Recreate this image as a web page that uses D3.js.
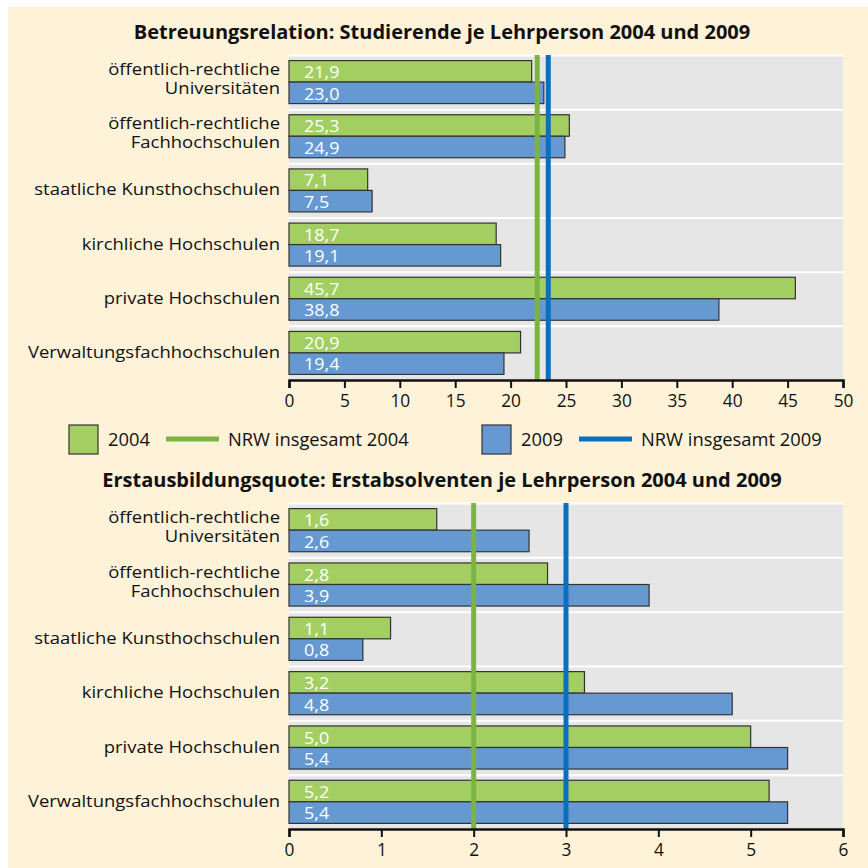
<!DOCTYPE html>
<html>
<head>
<meta charset="utf-8">
<script src="https://cdn.jsdelivr.net/npm/d3@7"></script>
<style>
  body { margin: 0; background: #fff; }
  text { font-family: "Open Sans", "Noto Sans", sans-serif; fill: #111; }
</style>
</head>
<body>
<div id="chart"></div>
<script>
// categories (line breaks mark two-line labels)
var categories = [
  "öffentlich-rechtliche\nUniversitäten",
  "öffentlich-rechtliche\nFachhochschulen",
  "staatliche Kunsthochschulen",
  "kirchliche Hochschulen",
  "private Hochschulen",
  "Verwaltungsfachhochschulen"
];
var years = ["2004", "2009"];

// Betreuungsrelation
var betreuung2004 = [21.9, 25.3, 7.1, 18.7, 45.7, 20.9];
var betreuung2009 = [23.0, 24.9, 7.5, 19.1, 38.8, 19.4];
var betreuungNRW = [22.4, 23.4];
var betreuungTicks = [0, 5, 10, 15, 20, 25, 30, 35, 40, 45, 50];

// Erstausbildungsquote
var erst2004 = [1.6, 2.8, 1.1, 3.2, 5.0, 5.2];
var erst2009 = [2.6, 3.9, 0.8, 4.8, 5.4, 5.4];
var erstNRW = [2.0, 3.0];
var erstTicks = [0, 1, 2, 3, 4, 5, 6];

var legendLabels = ["2004", "NRW insgesamt 2004", "2009", "NRW insgesamt 2009"];

var barColor = {"2004": "#a3cf62", "2009": "#6699d1"};
var lineColor = {"2004": "#7bb441", "2009": "#0a70bd"};

var width = 868, height = 868;
var fmt = function(v) { return d3.format(".1f")(v).replace(".", ","); };

// text is a bit wider in the original, stretch it horizontally
function place(x, y, sx) {
  return "translate(" + x + "," + y + ") scale(" + sx + ",1)";
}

var svg = d3.select("#chart").append("svg")
    .attr("width", width)
    .attr("height", height);

// cream background
svg.append("rect")
    .attr("x", 8).attr("y", 7)
    .attr("width", width - 8).attr("height", height - 7)
    .attr("fill", "#fef2d8");

function drawPanel(opt) {
  var x = d3.scaleLinear().domain([0, opt.max]).range([289, 843]);
  var y = d3.scaleBand().domain(categories).range([opt.top, opt.bottom]);
  var y2 = d3.scaleBand().domain(years).range([0, y.bandwidth()]).paddingOuter(0.26);

  var g = svg.append("g");

  g.append("text")
      .attr("x", 442).attr("y", opt.titleY)
      .attr("text-anchor", "middle")
      .style("font-weight", "bold")
      .style("font-size", "20px")
      .text(opt.title);

  // plot background
  g.append("rect")
      .attr("x", x(0)).attr("y", opt.top)
      .attr("width", x(opt.max) - x(0)).attr("height", opt.bottom - opt.top)
      .attr("fill", "#e6e6e6");

  // white separators
  g.selectAll(".sep")
    .data(categories)
    .enter().append("line")
      .attr("x1", x(0)).attr("x2", x(opt.max))
      .attr("y1", function(d) { return y(d) + 0.5; })
      .attr("y2", function(d) { return y(d) + 0.5; })
      .attr("stroke", "#fff")
      .attr("stroke-width", 2);

  // bars
  var rows = [];
  categories.forEach(function(c, i) {
    rows.push({cat: c, year: "2004", value: opt.v2004[i]});
    rows.push({cat: c, year: "2009", value: opt.v2009[i]});
  });

  g.selectAll(".bar")
    .data(rows)
    .enter().append("rect")
      .attr("x", x(0))
      .attr("y", function(d) { return y(d.cat) + y2(d.year); })
      .attr("width", function(d) { return x(d.value) - x(0); })
      .attr("height", y2.bandwidth())
      .attr("fill", function(d) { return barColor[d.year]; })
      .attr("stroke", "#333")
      .attr("stroke-width", 1.2);

  g.selectAll(".val")
    .data(rows)
    .enter().append("text")
      .attr("transform", function(d) {
        return place(x(0) + 15, y(d.cat) + y2(d.year) + y2.bandwidth() - 4, 1.1);
      })
      .style("fill", "#fff")
      .style("font-size", "16.3px")
      .text(function(d) { return fmt(d.value); });

  // NRW lines
  g.selectAll(".nrw")
    .data(years)
    .enter().append("line")
      .attr("x1", function(d, i) { return x(opt.nrw[i]); })
      .attr("x2", function(d, i) { return x(opt.nrw[i]); })
      .attr("y1", opt.top)
      .attr("y2", opt.bottom)
      .attr("stroke", function(d) { return lineColor[d]; })
      .attr("stroke-width", 5);

  // category labels
  g.selectAll(".cat")
    .data(categories)
    .enter().append("text")
      .attr("text-anchor", "end")
      .style("font-size", "16.5px")
      .attr("transform", function(d) {
        return place(280, y(d) + y.bandwidth() / 2, 1.12);
      })
      .each(function(d) {
        var lines = d.split("\n");
        var t = d3.select(this);
        lines.forEach(function(l, k) {
          t.append("tspan")
              .attr("x", 0)
              .attr("y", lines.length === 1 ? 5 : -7 + k * 19)
              .text(l);
        });
      });

  // axis
  var axis = g.append("g")
      .attr("transform", "translate(0," + opt.bottom + ")")
      .call(d3.axisBottom(x).tickValues(opt.ticks).tickSize(8).tickPadding(7).tickFormat(d3.format("d")));
  axis.select(".domain").attr("stroke", "#111").attr("stroke-width", 2.5);
  axis.selectAll(".tick line").attr("stroke", "#111").attr("stroke-width", 2);
  axis.selectAll(".tick text")
      .style("font-family", "'Open Sans', sans-serif")
      .style("font-size", "17.3px")
      .attr("fill", "#111");
}

drawPanel({
  title: "Betreuungsrelation: Studierende je Lehrperson 2004 und 2009",
  titleY: 39, top: 55, bottom: 380, max: 50,
  v2004: betreuung2004, v2009: betreuung2009, nrw: betreuungNRW, ticks: betreuungTicks
});

drawPanel({
  title: "Erstausbildungsquote: Erstabsolventen je Lehrperson 2004 und 2009",
  titleY: 487, top: 503, bottom: 829, max: 6,
  v2004: erst2004, v2009: erst2009, nrw: erstNRW, ticks: erstTicks
});

// legend
var legend = svg.append("g");
var legendX = [69, 482];
years.forEach(function(yr, i) {
  var lx = legendX[i];
  legend.append("rect")
      .attr("x", lx).attr("y", 425)
      .attr("width", 29).attr("height", 29)
      .attr("fill", barColor[yr])
      .attr("stroke", "#333").attr("stroke-width", 1.2);
  legend.append("text")
      .attr("transform", place(lx + 39, 446, 1.06))
      .style("font-size", "17.3px")
      .text(legendLabels[i * 2]);
  legend.append("line")
      .attr("x1", lx + 97).attr("x2", lx + 150)
      .attr("y1", 439).attr("y2", 439)
      .attr("stroke", lineColor[yr])
      .attr("stroke-width", 5);
  legend.append("text")
      .attr("transform", place(lx + 159, 446, 1.06))
      .style("font-size", "17.3px")
      .text(legendLabels[i * 2 + 1]);
});
</script>
</body>
</html>
